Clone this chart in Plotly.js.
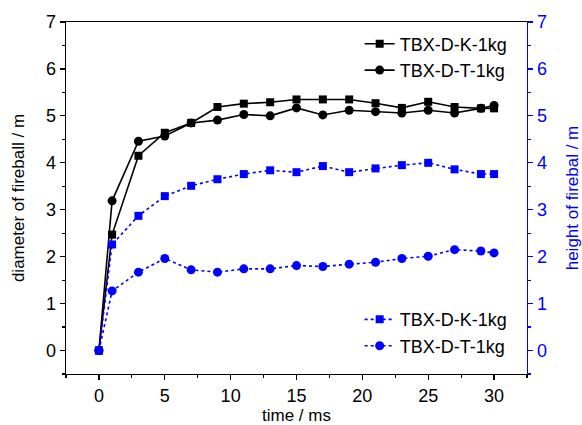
<!DOCTYPE html>
<html>
<head>
<meta charset="utf-8">
<script src="https://cdn.plot.ly/plotly-3.0.1.min.js"></script>
<style>
  html, body { margin: 0; padding: 0; background: #fff; }
  #chart { width: 582px; height: 425px; }
</style>
</head>
<body>
<div id="chart"></div>
<script>
// Fireball measurements over time for two charges
const timeMs = [0, 1, 3, 5, 7, 9, 11, 13, 15, 17, 19, 21, 23, 25, 27, 29, 30];

// Fireball diameter (m)
const diameterK = [0, 2.47, 4.15, 4.64, 4.85, 5.19, 5.26, 5.29, 5.35, 5.35, 5.35, 5.27, 5.17, 5.30, 5.19, 5.16, 5.16];
const diameterT = [0, 3.19, 4.46, 4.57, 4.85, 4.91, 5.03, 5.00, 5.17, 5.02, 5.12, 5.09, 5.06, 5.12, 5.06, 5.16, 5.22];

// Fireball height (m)
const heightK = [0, 2.26, 2.87, 3.29, 3.51, 3.65, 3.76, 3.84, 3.80, 3.93, 3.80, 3.88, 3.95, 4.00, 3.86, 3.76, 3.76];
const heightT = [0, 1.27, 1.67, 1.96, 1.72, 1.67, 1.74, 1.74, 1.81, 1.79, 1.84, 1.88, 1.96, 2.01, 2.15, 2.12, 2.08];

const seriesNames = ['TBX-D-K-1kg', 'TBX-D-T-1kg'];

const FONT = 'Arial, "Liberation Sans", sans-serif';
const BLUE = '#0000ff';

const traces = [
  {
    x: timeMs, y: diameterK, name: seriesNames[0], type: 'scatter', mode: 'lines+markers',
    line: { color: '#000', width: 1.6 },
    marker: { symbol: 'square', size: 8, color: '#000' },
    legend: 'legend'
  },
  {
    x: timeMs, y: diameterT, name: seriesNames[1], type: 'scatter', mode: 'lines+markers',
    line: { color: '#000', width: 1.6 },
    marker: { symbol: 'circle', size: 9, color: '#000' },
    legend: 'legend'
  },
  {
    x: timeMs, y: heightK, name: seriesNames[0], type: 'scatter', mode: 'lines+markers',
    yaxis: 'y2',
    line: { color: BLUE, width: 1.6, dash: 'dot' },
    marker: { symbol: 'square', size: 8, color: BLUE },
    legend: 'legend2'
  },
  {
    x: timeMs, y: heightT, name: seriesNames[1], type: 'scatter', mode: 'lines+markers',
    yaxis: 'y2',
    line: { color: BLUE, width: 1.6, dash: 'dot' },
    marker: { symbol: 'circle', size: 9, color: BLUE },
    legend: 'legend2'
  }
];

const layout = {
  width: 582, height: 425,
  margin: { l: 66, r: 55, t: 22, b: 51 },
  paper_bgcolor: '#fff',
  plot_bgcolor: '#fff',
  font: { family: FONT, size: 17, color: '#000' },
  showlegend: true,
  xaxis: {
    range: [-2.5, 32.5],
    tickmode: 'linear', tick0: 0, dtick: 5,
    ticks: 'outside', ticklen: 5, tickwidth: 1.2, tickcolor: '#000',
    minor: { tickmode: 'linear', tick0: 2.5, dtick: 5, ticks: 'outside', ticklen: 3, tickcolor: '#000' },
    showline: true, linecolor: '#000', linewidth: 1.3, mirror: true,
    showgrid: false, zeroline: false,
    tickfont: { size: 18 },
    title: { text: 'time / ms', font: { size: 17 }, standoff: 3 }
  },
  yaxis: {
    range: [-0.5, 7],
    tickmode: 'linear', tick0: 0, dtick: 1,
    ticks: 'outside', ticklen: 5, tickwidth: 1.2, tickcolor: '#000',
    minor: { tickmode: 'linear', tick0: 0.5, dtick: 1, ticks: 'outside', ticklen: 3, tickcolor: '#000' },
    showline: true, linecolor: '#000', linewidth: 1.3,
    showgrid: false, zeroline: false,
    tickfont: { size: 18 },
    title: { text: 'diameter of fireball / m', font: { size: 17 }, standoff: 17 }
  },
  yaxis2: {
    overlaying: 'y', side: 'right',
    range: [-0.5, 7],
    tickmode: 'linear', tick0: 0, dtick: 1,
    ticks: 'outside', ticklen: 5, tickwidth: 1.2, tickcolor: BLUE,
    minor: { tickmode: 'linear', tick0: 0.5, dtick: 1, ticks: 'outside', ticklen: 3, tickcolor: BLUE },
    showline: true, linecolor: BLUE, linewidth: 1.3,
    showgrid: false, zeroline: false,
    tickfont: { size: 18, color: BLUE },
    title: { text: 'height of firebal / m', font: { size: 17, color: BLUE }, standoff: 26 }
  },
  legend: {
    x: 0.637, y: 0.99, xanchor: 'left', yanchor: 'top',
    bgcolor: 'rgba(255,255,255,0)', borderwidth: 0,
    font: { size: 18, family: FONT },
    itemwidth: 30, tracegroupgap: 0
  },
  legend2: {
    x: 0.637, y: 0.207, xanchor: 'left', yanchor: 'top',
    bgcolor: 'rgba(255,255,255,0)', borderwidth: 0,
    font: { size: 18, family: FONT },
    itemwidth: 30, tracegroupgap: 0
  }
};

Plotly.newPlot('chart', traces, layout, { displayModeBar: false, staticPlot: true });
</script>
</body>
</html>
